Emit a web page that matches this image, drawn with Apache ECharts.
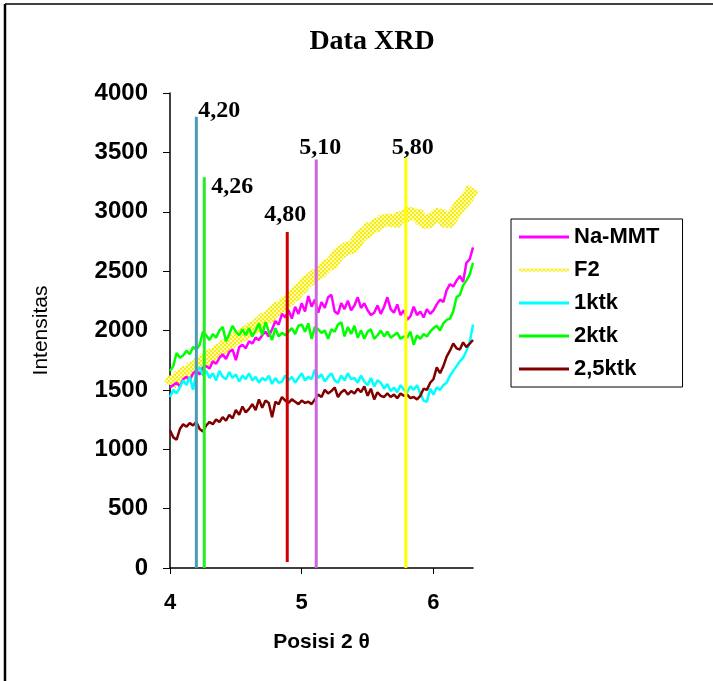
<!DOCTYPE html>
<html>
<head>
<meta charset="utf-8">
<script src="https://cdn.jsdelivr.net/npm/echarts@6/dist/echarts.min.js"></script>
<style>
html,body{margin:0;padding:0;background:#fff;}
#chart{width:713px;height:681px;}
</style>
</head>
<body>
<div id="chart"></div>
<script>
// ---- data ----
const xStart = 4.0;
const xStep = 0.025;
const seriesNames = ['Na-MMT', 'F2', '1ktk', '2ktk', '2,5ktk'];

const naMMT = [1520,1540,1560,1530,1590,1610,1580,1640,1660,1630,1690,1700,1680,1740,1720,1770,1800,1760,1820,1840,1750,1860,1880,1850,1910,1890,1940,1920,1960,1990,1950,2010,2080,2050,2140,2110,2170,2100,2200,2140,2230,2160,2290,2200,2260,2150,2240,2190,2280,2300,2160,2140,2230,2180,2250,2170,2210,2280,2190,2230,2170,2130,2150,2210,2140,2200,2280,2180,2150,2220,2130,2170,2090,2120,2200,2130,2160,2110,2180,2140,2170,2220,2260,2240,2340,2390,2370,2420,2460,2410,2570,2600,2700];

const f2 = [1540,1590,1570,1630,1620,1670,1650,1700,1690,1740,1720,1780,1770,1810,1800,1850,1840,1890,1880,1930,1920,1960,1950,1990,2000,2030,2020,2060,2080,2110,2100,2150,2170,2200,2190,2240,2250,2290,2300,2340,2360,2400,2420,2440,2460,2480,2500,2530,2560,2550,2600,2640,2660,2680,2700,2690,2720,2760,2800,2820,2830,2880,2860,2910,2900,2940,2920,2950,2900,2930,2960,2950,2980,2990,2970,2990,2940,2920,2900,2930,2950,2970,2990,2940,2900,2930,2970,3010,3050,3080,3110,3150,3200];

const ktk1 = [1440,1500,1470,1520,1580,1540,1610,1500,1650,1690,1620,1660,1600,1640,1580,1660,1610,1590,1650,1600,1630,1570,1620,1590,1640,1580,1610,1560,1600,1580,1620,1550,1600,1560,1570,1620,1580,1610,1560,1600,1640,1580,1610,1590,1670,1600,1630,1570,1610,1640,1580,1560,1620,1580,1640,1590,1600,1560,1620,1570,1540,1600,1530,1580,1560,1510,1550,1490,1520,1480,1540,1500,1480,1530,1500,1540,1470,1410,1400,1510,1460,1520,1500,1540,1560,1620,1660,1700,1740,1770,1830,1900,2050];

const ktk2 = [1660,1700,1810,1770,1790,1830,1800,1860,1840,1880,1990,1960,1920,1970,1940,2000,2030,1910,1970,2040,1990,1960,2010,1960,2020,1950,2000,2060,1960,2070,1990,1920,2020,1950,1980,1960,1990,2020,1970,2040,2050,1990,2060,1930,2030,2010,1980,2000,1930,2010,1990,2050,2070,1950,2030,1970,2040,1940,2000,1930,1990,2010,1930,1960,2000,1950,1990,1940,1960,1980,1930,1950,1940,1990,1880,1960,1930,1970,1950,1990,2020,2040,2000,2060,2090,2100,2160,2280,2300,2380,2420,2470,2570];

const ktk25 = [1160,1100,1080,1170,1210,1190,1220,1200,1230,1170,1150,1200,1230,1210,1250,1230,1270,1240,1290,1260,1330,1290,1360,1310,1340,1380,1330,1420,1350,1410,1390,1270,1400,1380,1440,1410,1390,1420,1400,1380,1410,1390,1400,1380,1420,1460,1440,1500,1470,1490,1520,1440,1480,1500,1460,1490,1470,1510,1480,1530,1450,1510,1420,1480,1450,1440,1470,1440,1460,1430,1470,1450,1460,1430,1440,1420,1450,1510,1500,1560,1590,1690,1640,1700,1780,1830,1890,1850,1840,1900,1860,1890,1920];

// peak marker lines
const peakPos    = [4.20, 4.26, 4.89, 5.11, 5.79];
const peakBottom = [0, 0, 50, 0, 0];
const peakTop    = [3800, 3290, 2830, 3440, 3460];
const peakLabels = ['4,20', '4,26', '4,80', '5,10', '5,80'];

// axis ticks
const xTicks = [4, 5, 6];
const yMin = 0, yMax = 4000, yInterval = 500;
const xMin = 4, xMax = 6.3;

// ---- styles ----
const seriesColors = ['#ff00ff', '#ffff00', '#00ffff', '#00ff00', '#800000'];
const seriesWidths = [2.5, 13, 2.5, 2.5, 2.5];
const peakColors = ['#4a9bb6', '#22ee22', '#cc0000', '#cc66dd', '#ffff00'];
const peakLabelOffsets = [[23, 11], [28, 26], [-2, 0], [4, 5], [7, 8]];

function pairs(arr) {
  return arr.map((v, i) => [+(xStart + i * xStep).toFixed(3), v]);
}

// hatched yellow pattern for F2
const pc = document.createElement('canvas');
pc.width = 4; pc.height = 4;
const pctx = pc.getContext('2d');
pctx.fillStyle = '#ffffa0';
pctx.fillRect(0, 0, 4, 4);
pctx.fillStyle = '#f6ea20';
pctx.fillRect(0, 0, 2, 2);
pctx.fillRect(2, 2, 2, 2);
const f2Pattern = { image: pc, repeat: 'repeat' };

const dataSets = [naMMT, f2, ktk1, ktk2, ktk25];

const series = [];
const drawOrder = [1, 0, 3, 2, 4];
drawOrder.forEach(idx => {
  series.push({
    name: seriesNames[idx],
    type: 'line',
    data: pairs(dataSets[idx]),
    symbol: 'none',
    animation: false,
    lineStyle: {
      color: idx === 1 ? f2Pattern : seriesColors[idx],
      width: seriesWidths[idx]
    },
    itemStyle: { color: idx === 1 ? '#f5ee50' : seriesColors[idx] },
    z: 2
  });
});

peakPos.forEach((p, i) => {
  series.push({
    name: 'peak' + i,
    type: 'line',
    data: [[p, peakBottom[i]], [p, peakTop[i]]],
    symbol: 'none',
    animation: false,
    lineStyle: { color: peakColors[i], width: 3 },
    z: 5
  });
});

// peak labels as a text-only scatter series
series.push({
  name: 'peakLabels',
  type: 'scatter',
  symbol: 'circle',
  symbolSize: 0,
  animation: false,
  itemStyle: { opacity: 1 },
  z: 6,
  data: peakPos.map((p, i) => ({
    value: [p, peakTop[i]],
    label: {
      show: true,
      position: 'top',
      distance: 5,
      offset: peakLabelOffsets[i],
      formatter: peakLabels[i],
      fontFamily: 'Liberation Serif',
      fontWeight: 'bold',
      fontSize: 24,
      color: '#000',
      opacity: 1
    }
  }))
});

const chart = echarts.init(document.getElementById('chart'), null, { renderer: 'canvas' });
chart.setOption({
  backgroundColor: '#fff',
  animation: false,
  tooltip: { show: false },
  title: {
    text: 'Data XRD',
    left: 367,
    top: 23,
    textAlign: 'center',
    textStyle: {
      fontFamily: 'Liberation Serif',
      fontWeight: 'bold',
      fontSize: 28,
      color: '#000'
    }
  },
  legend: {
    data: seriesNames.map((n, i) => ({
      name: n,
      icon: 'rect',
      itemStyle: { color: i === 1 ? f2Pattern : seriesColors[i] }
    })),
    orient: 'vertical',
    left: 511,
    top: 219,
    itemWidth: 50,
    itemHeight: 3,
    itemGap: 11,
    padding: [7, 23, 7, 8],
    borderColor: '#000',
    borderWidth: 1,
    textStyle: {
      fontFamily: 'Liberation Sans',
      fontWeight: 'bold',
      fontSize: 22,
      color: '#000'
    }
  },
  grid: { left: 170, right: 240, top: 93, bottom: 113 },
  xAxis: {
    type: 'value',
    min: xMin,
    max: xMax,
    interval: 1,
    name: 'Posisi 2 θ',
    nameLocation: 'middle',
    nameGap: 64,
    nameTextStyle: { fontFamily: 'Liberation Sans', fontWeight: 'bold', fontSize: 21, color: '#000' },
    axisLine: { show: true, lineStyle: { color: '#000', width: 1.5 } },
    axisTick: { show: true, inside: false, length: 6, lineStyle: { color: '#000' }, customValues: xTicks },
    axisLabel: { customValues: xTicks, margin: 24, fontFamily: 'Liberation Sans', fontWeight: 'bold', fontSize: 22, color: '#000' },
    splitLine: { show: false }
  },
  yAxis: {
    type: 'value',
    min: yMin,
    max: yMax,
    interval: yInterval,
    name: 'Intensitas',
    nameLocation: 'middle',
    nameGap: 118,
    nameTextStyle: { fontFamily: 'Liberation Sans', fontSize: 21, color: '#000' },
    axisLine: { show: true, lineStyle: { color: '#000', width: 1.5 } },
    axisTick: { show: true, inside: false, length: 7, lineStyle: { color: '#000' } },
    axisLabel: { margin: 22, formatter: v => String(v), fontFamily: 'Liberation Sans', fontWeight: 'bold', fontSize: 24, color: '#000' },
    splitLine: { show: false }
  },
  graphic: [
    { type: 'line', shape: { x1: 5, y1: 4, x2: 713, y2: 4 }, style: { stroke: '#000', lineWidth: 1.5 } },
    { type: 'line', shape: { x1: 5, y1: 4, x2: 5, y2: 681 }, style: { stroke: '#000', lineWidth: 2.5 } }
  ],
  series: series
});
</script>
</body>
</html>
